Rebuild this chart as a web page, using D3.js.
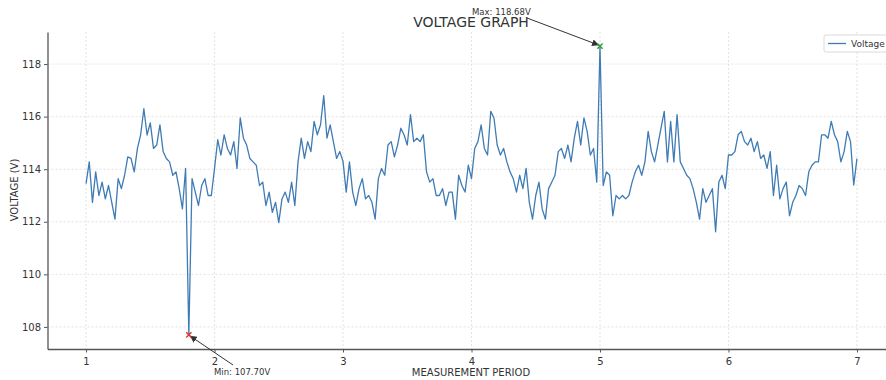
<!DOCTYPE html>
<html>
<head>
<meta charset="utf-8">
<script src="https://cdn.jsdelivr.net/npm/d3@7"></script>
<style>
  body { margin: 0; background: #fff; }
  svg { font-family: "DejaVu Sans", sans-serif; display: block; }
</style>
</head>
<body>
<div id="chart"></div>
<script>
// measurement period runs 1..7, one reading every 0.025
const periodStart = 1;
const periodStep = 0.025;
const voltage = [
  113.45, 114.28, 112.74, 113.9, 113.0, 113.51, 112.87, 113.38, 112.74, 112.1,
  113.64, 113.26, 113.77, 114.47, 114.41, 113.9, 114.79, 115.31, 116.3, 115.3,
  115.76, 114.79, 114.92, 115.69, 114.67, 114.41, 114.28, 113.77, 113.9, 113.26,
  112.49, 114.03, 107.7, 113.64, 113.13, 112.62, 113.38, 113.64, 113.0, 113.0,
  114.03, 115.12, 114.54, 115.31, 114.79, 114.54, 115.05, 114.03, 115.95, 115.18,
  114.92, 114.41, 114.28, 114.15, 113.38, 113.51, 112.62, 113.13, 112.36, 112.74,
  111.97, 112.87, 113.13, 112.74, 113.51, 112.62, 114.28, 115.18, 114.41, 115.05,
  114.67, 115.82, 115.31, 115.69, 116.8, 115.18, 115.69, 115.05, 114.41, 114.67,
  114.3, 113.13, 114.28, 113.13, 112.62, 113.26, 113.64, 112.87, 113.0, 112.74,
  112.1, 113.64, 114.03, 113.77, 114.92, 115.05, 114.47, 114.92, 115.56, 115.31,
  114.92, 116.08, 115.05, 115.18, 115.05, 115.31, 113.9, 113.51, 113.64, 113.0,
  113.0, 113.26, 112.62, 113.13, 113.13, 112.1, 113.77, 113.38, 113.13, 114.15,
  113.64, 114.79, 115.05, 115.69, 114.79, 114.54, 116.2, 115.95, 114.92, 114.54,
  114.79, 114.28, 113.9, 113.64, 113.13, 113.77, 113.26, 114.03, 112.74, 112.1,
  113.0, 113.51, 112.49, 112.1, 113.26, 113.51, 113.77, 114.67, 114.79, 114.41,
  114.92, 114.28, 115.18, 115.82, 114.92, 115.95, 115.44, 114.54, 114.79, 113.51,
  118.68, 113.38, 113.9, 113.77, 112.23, 113.0, 112.87, 113.0, 112.87, 113.0,
  113.51, 113.9, 114.15, 113.77, 114.28, 115.44, 114.67, 114.28, 114.92, 115.56,
  116.2, 114.28, 115.82, 114.28, 116.08, 114.28, 114.03, 113.77, 113.64, 113.26,
  112.74, 112.1, 113.26, 112.74, 113.0, 113.26, 111.62, 113.51, 113.77, 113.26,
  114.54, 114.54, 114.67, 115.31, 115.44, 115.05, 114.92, 115.18, 114.67, 115.05,
  114.41, 114.54, 114.03, 114.67, 113.0, 114.15, 112.87, 113.26, 113.51, 112.23,
  112.74, 113.0, 113.38, 113.26, 113.0, 113.9, 114.15, 114.28, 114.28, 115.31,
  115.31, 115.18, 115.82, 115.31, 115.05, 114.28, 114.67, 115.44, 115.05, 113.4,
  114.4
];
const xTicks = [1, 2, 3, 4, 5, 6, 7];
const yTicks = [108, 110, 112, 114, 116, 118];

const width = 886, height = 380;
const svg = d3.select("#chart").append("svg")
  .attr("width", width).attr("height", height);

const x = d3.scaleLinear().domain([0.7, 7.3]).range([47.5, 895.5]);
const y = d3.scaleLinear().domain([107.16, 119.22]).range([349, 32]);

const data = voltage.map((v, i) => ({ t: periodStart + i * periodStep, v: v }));

// grid
svg.append("g").selectAll("line").data(xTicks).enter().append("line")
  .attr("x1", d => x(d)).attr("x2", d => x(d))
  .attr("y1", y.range()[1]).attr("y2", y.range()[0])
  .attr("stroke", "#dcdcdc").attr("stroke-width", 0.8).attr("stroke-dasharray", "2,2");
svg.append("g").selectAll("line").data(yTicks).enter().append("line")
  .attr("x1", x.range()[0]).attr("x2", width)
  .attr("y1", d => y(d)).attr("y2", d => y(d))
  .attr("stroke", "#dcdcdc").attr("stroke-width", 0.8).attr("stroke-dasharray", "2,2");

// axes
const xAxis = svg.append("g").attr("transform", `translate(0,${y.range()[0]})`)
  .call(d3.axisBottom(x).tickValues(xTicks).tickFormat(d3.format("d")).tickSize(3.5).tickSizeOuter(0));
const yAxis = svg.append("g").attr("transform", `translate(${x.range()[0]},0)`)
  .call(d3.axisLeft(y).tickValues(yTicks).tickSize(3.5).tickSizeOuter(0));
[xAxis, yAxis].forEach(a => {
  a.select(".domain").attr("stroke", "#555").attr("stroke-width", 1.3);
  a.selectAll(".tick line").attr("stroke", "#555");
  a.selectAll(".tick text").attr("fill", "#333").style("font-size", "10px")
    .style("font-family", "DejaVu Sans, sans-serif");
});
xAxis.selectAll(".tick text").attr("dy", "0.9em");

// line
const line = d3.line().x(d => x(d.t)).y(d => y(d.v));
svg.append("path").datum(data)
  .attr("d", line).attr("fill", "none")
  .attr("stroke", "#3f7bb4").attr("stroke-width", 1.3).attr("stroke-linejoin", "round");

// arrowhead
svg.append("defs").append("marker")
  .attr("id", "arrow").attr("viewBox", "0 0 10 10")
  .attr("refX", 10).attr("refY", 5)
  .attr("markerWidth", 7).attr("markerHeight", 7).attr("orient", "auto")
  .append("path").attr("d", "M0,0 L10,5 L0,10 z").attr("fill", "#333");

const maxPt = data.reduce((a, b) => b.v > a.v ? b : a);
const minPt = data.reduce((a, b) => b.v < a.v ? b : a);

function cross(pt, color) {
  const cx = x(pt.t), cy = y(pt.v), s = 2.6;
  svg.append("path")
    .attr("d", `M${cx - s},${cy - s}L${cx + s},${cy + s}M${cx - s},${cy + s}L${cx + s},${cy - s}`)
    .attr("stroke", color).attr("stroke-width", 1.4);
}

// max annotation
svg.append("line")
  .attr("x1", 527).attr("y1", 18).attr("x2", x(maxPt.t) - 1).attr("y2", y(maxPt.v) - 1)
  .attr("stroke", "#333").attr("stroke-width", 1).attr("marker-end", "url(#arrow)");
cross(maxPt, "#2a9d3a");
svg.append("text").attr("x", 472).attr("y", 15)
  .style("font-size", "8.5px").attr("fill", "#333")
  .text(`Max: ${maxPt.v.toFixed(2)}V`);

// min annotation
svg.append("line")
  .attr("x1", 233).attr("y1", 365).attr("x2", x(minPt.t) + 1).attr("y2", y(minPt.v) + 1)
  .attr("stroke", "#333").attr("stroke-width", 1).attr("marker-end", "url(#arrow)");
cross(minPt, "#e03030");
svg.append("text").attr("x", 214).attr("y", 375)
  .style("font-size", "8.5px").attr("fill", "#333")
  .text(`Min: ${minPt.v.toFixed(2)}V`);

// title and labels
svg.append("text").attr("x", 471).attr("y", 27).attr("text-anchor", "middle")
  .style("font-size", "14px").attr("fill", "#333").text("VOLTAGE GRAPH");
svg.append("text").attr("x", 471).attr("y", 376).attr("text-anchor", "middle")
  .style("font-size", "10px").attr("fill", "#333").text("MEASUREMENT PERIOD");
svg.append("text").attr("transform", "translate(18,190) rotate(-90)").attr("text-anchor", "middle")
  .style("font-size", "10px").attr("fill", "#333").text("VOLTAGE (V)");

// legend
const lg = svg.append("g").attr("transform", "translate(824,35)");
lg.append("rect").attr("width", 80).attr("height", 17).attr("rx", 2)
  .attr("fill", "#fff").attr("stroke", "#d0d0d0").attr("stroke-width", 0.8);
lg.append("line").attr("x1", 4).attr("x2", 22).attr("y1", 8.5).attr("y2", 8.5)
  .attr("stroke", "#3f7bb4").attr("stroke-width", 1.3);
lg.append("text").attr("x", 27).attr("y", 12)
  .style("font-size", "9px").attr("fill", "#333").text("Voltage");
</script>
</body>
</html>
